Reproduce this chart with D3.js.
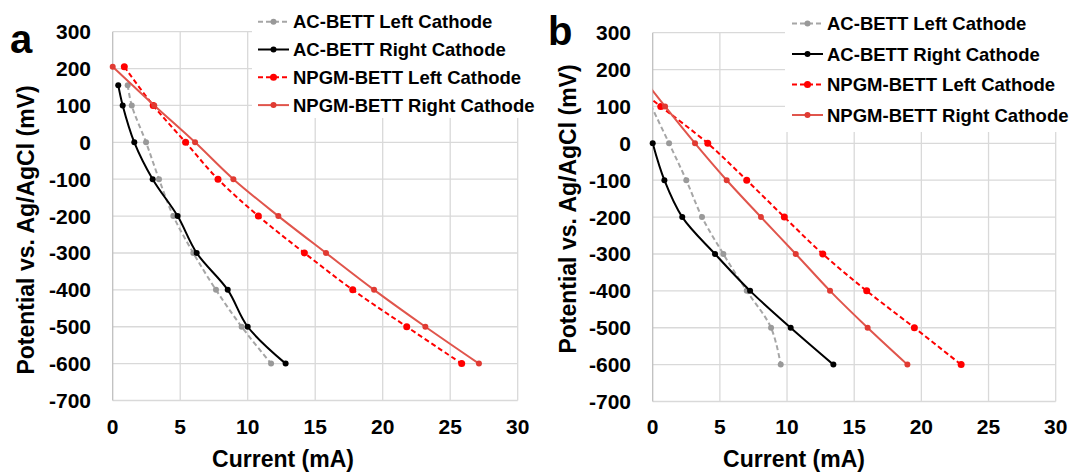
<!DOCTYPE html>
<meta charset="utf-8">
<html>
<head>
<script src="https://d3js.org/d3.v7.min.js"></script>
<style>
  body { margin: 0; background: #fff; }
  text { font-family: "Liberation Sans", Arial, sans-serif; font-weight: bold; fill: #000; }
</style>
</head>
<body>
<div id="chart"></div>
<script>
// series names and axis ticks
var seriesNames = ["AC-BETT Left Cathode", "AC-BETT Right Cathode", "NPGM-BETT Left Cathode", "NPGM-BETT Right Cathode"];
var xTicks = [0, 5, 10, 15, 20, 25, 30];
var yTicks = [300, 200, 100, 0, -100, -200, -300, -400, -500, -600, -700];

// panel a: current (mA) and potential (mV)
var aAcLeftI  = [1.11, 1.41, 2.47, 3.43, 4.49, 5.97, 7.65, 9.55, 11.73];
var aAcLeftV  = [155, 100, 0, -100, -200, -300, -400, -500, -600];
var aAcRightI = [0.41, 0.74, 1.6, 2.96, 4.81, 6.22, 8.52, 10.0, 12.81];
var aAcRightV = [155, 100, 0, -100, -200, -300, -400, -500, -600];
var aNpLeftI  = [0.86, 3.0, 5.4, 7.8, 10.79, 14.2, 17.78, 21.78, 25.85];
var aNpLeftV  = [205, 100, 0, -100, -200, -300, -400, -500, -600];
var aNpRightI = [0, 3.08, 6.1, 8.94, 12.27, 15.8, 19.36, 23.16, 27.13];
var aNpRightV = [205, 100, 0, -100, -200, -300, -400, -500, -600];

// panel b
var bAcLeftI  = [-0.4, 1.22, 2.5, 3.67, 5.26, 7.0, 8.81, 9.53];
var bAcLeftV  = [123, 0, -100, -200, -300, -400, -500, -600];
var bAcRightI = [0, 0.87, 2.2, 4.64, 7.25, 10.27, 13.45];
var bAcRightV = [0, -100, -200, -300, -400, -500, -600];
var bNpLeftI  = [-0.4, 0.6, 4.1, 7.0, 9.8, 12.66, 15.93, 19.48, 22.96];
var bNpLeftV  = [129, 100, 0, -100, -200, -300, -400, -500, -600];
var bNpRightI = [-0.4, 0.92, 3.15, 5.51, 8.06, 10.65, 13.2, 16.0, 18.96];
var bNpRightV = [161, 100, 0, -100, -200, -300, -400, -500, -600];

var styles = [
  { line: "#a6a6a6", marker: "#999999", dash: "5,3", r: 3 },
  { line: "#000000", marker: "#000000", dash: null, r: 3 },
  { line: "#ff0000", marker: "#ff0000", dash: "5,3", r: 3.5 },
  { line: "#e0554c", marker: "#e03a32", dash: null, r: 3 }
];

function zip(xs, ys) { return xs.map(function(x, i) { return { x: x, y: ys[i] }; }); }

var panels = [
  { id: "a", x0: 112.7, x1: 517.7, y0: 400.5, y1: 31.7, labelX: 10, labelY: 53, labelSize: 40,
    tickRight: 91, titleX: 283, yTitleX: 34, yTitleY: 230,
    legX: 258, legY: 21.7, legStep: 27.8, legBox: [252, 0, 290, 118],
    series: [zip(aAcLeftI, aAcLeftV), zip(aAcRightI, aAcRightV), zip(aNpLeftI, aNpLeftV), zip(aNpRightI, aNpRightV)] },
  { id: "b", x0: 652.7, x1: 1055.7, y0: 401.5, y1: 32.7, labelX: 548, labelY: 45, labelSize: 40,
    tickRight: 631, titleX: 794, yTitleX: 576, yTitleY: 209,
    legX: 792, legY: 23.5, legStep: 30.5, legBox: [785, 0, 287, 132],
    series: [zip(bAcLeftI, bAcLeftV), zip(bAcRightI, bAcRightV), zip(bNpLeftI, bNpLeftV), zip(bNpRightI, bNpRightV)] }
];

var svg = d3.select("#chart").append("svg")
    .attr("width", 1072)
    .attr("height", 474);

panels.forEach(function(p) {
  var x = d3.scaleLinear().domain([0, 30]).range([p.x0, p.x1]);
  var y = d3.scaleLinear().domain([-700, 300]).range([p.y0, p.y1]);
  var g = svg.append("g");

  // gridlines
  g.append("g").selectAll("line").data(yTicks).enter().append("line")
    .attr("x1", p.x0).attr("x2", p.x1)
    .attr("y1", function(d) { return y(d); }).attr("y2", function(d) { return y(d); })
    .style("stroke", "#d9d9d9").style("stroke-width", 1.3);
  g.append("g").selectAll("line").data(xTicks).enter().append("line")
    .attr("y1", p.y0).attr("y2", p.y1)
    .attr("x1", function(d) { return x(d); }).attr("x2", function(d) { return x(d); })
    .style("stroke", function(d) { return d === 0 ? "#bfbfbf" : "#d9d9d9"; })
    .style("stroke-width", 1.3);

  // tick labels
  g.append("g").selectAll("text").data(yTicks).enter().append("text")
    .attr("x", p.tickRight).attr("y", function(d) { return y(d) + 7.5; })
    .style("text-anchor", "end").style("font-size", "21px")
    .text(function(d) { return d; });
  g.append("g").selectAll("text").data(xTicks).enter().append("text")
    .attr("x", function(d) { return x(d); }).attr("y", 434)
    .style("text-anchor", "middle").style("font-size", "21px")
    .text(function(d) { return d; });

  // axis titles
  g.append("text").attr("x", p.titleX).attr("y", 467)
    .style("text-anchor", "middle").style("font-size", "23px")
    .text("Current (mA)");
  g.append("text")
    .attr("transform", "translate(" + p.yTitleX + "," + p.yTitleY + ") rotate(-90)")
    .style("text-anchor", "middle").style("font-size", "23px")
    .text("Potential vs. Ag/AgCl (mV)");

  // panel letter
  g.append("text").attr("x", p.labelX).attr("y", p.labelY)
    .style("font-size", p.labelSize + "px")
    .text(p.id);

  // series
  var clipId = "clip-" + p.id;
  svg.append("clipPath").attr("id", clipId).append("rect")
    .attr("x", p.x0).attr("y", p.y1 - 20).attr("width", p.x1 - p.x0 + 20).attr("height", p.y0 - p.y1 + 20);

  var line = d3.line()
    .x(function(d) { return x(d.x); })
    .y(function(d) { return y(d.y); })
    .curve(d3.curveCatmullRom.alpha(0.5));

  p.series.forEach(function(s, i) {
    var st = styles[i];
    g.append("path").datum(s)
      .attr("d", line)
      .attr("clip-path", "url(#" + clipId + ")")
      .style("fill", "none")
      .style("stroke", st.line)
      .style("stroke-width", 2)
      .style("stroke-dasharray", st.dash);
    g.append("g").selectAll("circle").data(s.filter(function(d) { return d.x >= 0; }))
      .enter().append("circle")
      .attr("cx", function(d) { return x(d.x); })
      .attr("cy", function(d) { return y(d.y); })
      .attr("r", st.r)
      .style("fill", st.marker);
  });

  // legend
  var leg = g.append("g");
  leg.append("rect")
    .attr("x", p.legBox[0]).attr("y", p.legBox[1])
    .attr("width", p.legBox[2]).attr("height", p.legBox[3])
    .style("fill", "#fff");
  var items = leg.selectAll(".item").data(seriesNames).enter().append("g")
    .attr("transform", function(d, i) { return "translate(" + p.legX + "," + (p.legY + i * p.legStep) + ")"; });
  items.append("line")
    .attr("x1", 0).attr("x2", 31).attr("y1", 0).attr("y2", 0)
    .style("stroke", function(d, i) { return styles[i].line; })
    .style("stroke-width", 2)
    .style("stroke-dasharray", function(d, i) { return styles[i].dash; });
  items.append("circle")
    .attr("cx", 15.5).attr("cy", 0)
    .attr("r", function(d, i) { return styles[i].r; })
    .style("fill", function(d, i) { return styles[i].marker; });
  items.append("text")
    .attr("x", 35).attr("y", 6.5)
    .style("font-size", "18.5px")
    .text(function(d) { return d; });
});
</script>
</body>
</html>
